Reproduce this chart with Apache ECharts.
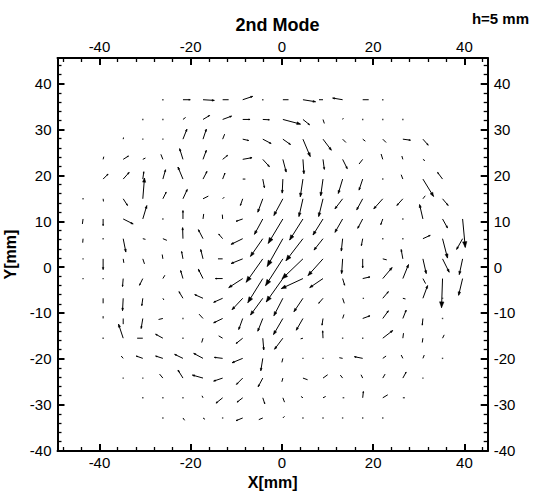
<!DOCTYPE html>
<html><head><meta charset="utf-8">
<script src="https://cdn.jsdelivr.net/npm/echarts@6/dist/echarts.min.js"></script>
<style>html,body{margin:0;padding:0;background:#fff}#c{width:539px;height:491px}</style>
</head><body><div id="c"></div>
<script>
// grid point coordinates (mm)
const xs = [-43.6,-39.2,-34.8,-30.5,-26.1,-21.7,-17.3,-13.0,-8.6,-4.2,0.2,4.6,9.0,13.3,17.7,22.1,26.5,30.9,35.2,39.6];
const ys = [36.5,32.2,27.9,23.5,19.2,14.9,10.5,6.2,1.8,-2.5,-6.8,-11.2,-15.5,-19.9,-24.2,-28.5,-32.9];
// vector components (arbitrary units), one row per y, one entry per x
const U0 = [null,null,null,null,0,22,34,18,30,3,17,38,-12,-30,18,0,null,null,null,null];
const V0 = [null,null,null,null,0,0,-2,0,10,0,0,-6,0,5,0,0,null,null,null,null];
const U1 = [null,null,null,0,0,8,20,27,22,20,53,20,4,2,0,0,0,null,null,null];
const V1 = [null,null,null,0,0,6,12,10,0,-1,-14,-16,-12,4,0,0,0,null,null,null];
const U2 = [null,null,1,0,0,12,10,6,18,25,23,22,25,10,8,10,23,16,null,null];
const V2 = [null,null,5,0,0,30,30,15,-4,-13,-16,-52,-33,-10,-6,-10,-3,-18,null,null];
const U3 = [null,2,16,8,-6,-10,10,15,28,20,10,3,4,14,-11,-5,-3,6,null,null];
const V3 = [null,8,10,4,15,32,27,12,5,-22,-38,-43,-30,-28,-14,16,10,-4,null,null];
const U4 = [null,15,18,3,8,-15,12,7,8,5,-2,-8,-7,-13,-11,0,-5,32,-15,null];
const V4 = [null,15,20,22,28,36,23,18,0,-26,-42,-53,-50,-43,-33,0,13,-52,20,null];
const U5 = [0,1,13,5,10,13,16,5,-7,-15,-27,-12,-13,-23,-18,-27,-18,7,17,null];
const V5 = [0,-8,-20,62,20,28,8,5,-20,-40,-50,-53,-53,-30,-33,-30,-20,9,-20,null];
const U6 = [-2,0,30,12,0,0,2,-1,-20,-25,-44,-40,-30,-23,-15,-6,0,-10,15,8];
const V6 = [-15,-20,-15,40,0,25,15,13,-7,-46,-73,-63,-48,-40,-28,-17,0,43,-27,-85];
const U7 = [-1,0,8,8,12,-1,-14,-12,-35,-37,-47,-51,-27,-4,-4,0,0,22,15,-18];
const V7 = [-12,0,-40,-2,-5,33,27,14,-17,-53,-83,-66,-34,-37,-21,0,0,10,-58,-32];
const U8 = [0,0,2,5,-2,-4,-7,-14,-35,-50,-52,-63,-45,-3,0,12,-5,10,20,-10];
const V8 = [0,-32,-12,-15,13,22,28,0,-14,-70,-80,-60,-50,-44,-27,-3,28,-44,-40,-47];
const U9 = [0,0,-2,-10,6,-7,-14,-22,-42,-45,-50,-65,-40,6,22,28,17,8,-3,-12];
const V9 = [0,-3,-24,-20,10,24,28,0,-27,-72,-70,-30,-27,-20,5,33,42,-15,-87,-50];
const U10 = [null,0,-2,-3,3,-12,-25,-27,-32,-37,-27,-27,-13,5,4,17,8,14,0,null];
const V10 = [null,-15,-37,-22,-5,20,11,-12,-34,-50,-52,-40,-15,-15,0,20,-2,38,0,null];
const U11 = [null,0,0,-5,-13,0,-12,-27,-12,-15,-28,-20,-3,4,22,17,10,-2,0,null];
const V11 = [null,7,-17,-30,-3,0,13,-13,-33,-38,-48,-35,-20,12,8,23,25,-20,0,null];
const U12 = [null,0,-14,-17,-22,0,-4,-12,-20,3,-25,-7,-1,0,0,30,2,-2,5,null];
const V12 = [null,0,42,0,12,0,-13,7,-16,-35,-33,-2,22,0,0,23,15,-13,10,null];
const U13 = [null,null,-6,-20,-22,-25,-28,-25,-32,-6,-3,0,0,-10,-25,10,-5,4,0,null];
const V13 = [null,null,7,7,7,12,15,3,-13,-37,-12,0,0,2,5,7,10,10,0,null];
const U14 = [null,null,0,0,-10,-15,-32,-27,-19,-14,-3,14,14,-7,-5,7,10,0,null,null];
const V14 = [null,null,0,0,12,24,9,-9,-19,-26,-11,-5,10,9,10,12,18,0,null,null];
const U15 = [null,null,null,0,0,0,-3,-20,-17,6,5,-6,8,5,2,15,6,null,null,null];
const V15 = [null,null,null,0,0,0,6,-16,-13,-18,-13,4,4,0,19,9,0,null,null,null];
const U16 = [null,null,null,null,0,5,6,0,-20,-12,5,0,0,0,0,0,null,null,null,null];
const V16 = [null,null,null,null,0,-7,-4,0,-8,-5,5,0,0,0,0,0,null,null,null,null];
const uRows = [U0,U1,U2,U3,U4,U5,U6,U7,U8,U9,U10,U11,U12,U13,U14,U15,U16];
const vRows = [V0,V1,V2,V3,V4,V5,V6,V7,V8,V9,V10,V11,V12,V13,V14,V15,V16];

// axis ticks / labels
const xMajor = [-40,-20,0,20,40];
const xMinor = [-48,-44,-36,-32,-28,-24,-16,-12,-8,-4,4,8,12,16,24,28,32,36,44];
const yMajor = [-40,-30,-20,-10,0,10,20,30,40];
const yMinor = [-38,-36,-34,-32,-28,-26,-24,-22,-18,-16,-14,-12,-8,-6,-4,-2,2,4,6,8,12,14,16,18,22,24,26,28,32,34,36,38,42,44];
const titleText = '2nd Mode';
const noteText = 'h=5 mm';
const xName = 'X[mm]';
const yName = 'Y[mm]';

const XMIN = -49.2, XMAX = 45.1, YMIN = -40.1, YMAX = 45.6;
const ARROW_SCALE = 1 / 13.7;
const FONT = 'Liberation Sans, Arial, sans-serif';

const data = [];
uRows.forEach((row, r) => row.forEach((u, k) => {
  if (u !== null) data.push([xs[k], ys[r], u, vRows[r][k]]);
}));

function mkAxis(dim, pos, major, opts) {
  const ax = {
    type: 'value', position: pos, min: dim === 'x' ? XMIN : YMIN, max: dim === 'x' ? XMAX : YMAX,
    splitLine: { show: false },
    axisLine: { show: major, onZero: false, lineStyle: { color: '#000', width: 2 } },
    axisTick: { show: true, inside: true, length: major ? 7 : 4,
      lineStyle: { color: '#000', width: major ? 2 : 1.3 },
      customValues: major ? (dim === 'x' ? xMajor : yMajor) : (dim === 'x' ? xMinor : yMinor) },
    axisLabel: { show: major, customValues: dim === 'x' ? xMajor : yMajor, color: '#000',
      fontSize: 15, fontFamily: FONT, margin: dim === 'x' ? 4 : 6 },
    axisPointer: { show: false }
  };
  return Object.assign(ax, opts || {});
}

const chart = echarts.init(document.getElementById('c'), null, { renderer: 'svg' });
chart.setOption({
  animation: false,
  backgroundColor: '#fff',
  title: [
    { text: titleText, left: 272.6, top: 11, textAlign: 'center',
      textStyle: { fontFamily: FONT, fontWeight: 'bold', fontSize: 18, color: '#000' } },
    { text: noteText, right: 5, top: 6,
      textStyle: { fontFamily: FONT, fontWeight: 'bold', fontSize: 15, color: '#000' } }
  ],
  grid: { left: 57.5, right: 51.3, top: 58, bottom: 40, containLabel: false, outerBoundsMode: 'none' },
  xAxis: [
    mkAxis('x', 'bottom', true, { name: xName, nameLocation: 'middle', nameGap: 19,
      nameTextStyle: { fontFamily: FONT, fontWeight: 'bold', fontSize: 16, color: '#000', lineHeight: 16 } }),
    mkAxis('x', 'top', true),
    mkAxis('x', 'bottom', false),
    mkAxis('x', 'top', false)
  ],
  yAxis: [
    mkAxis('y', 'left', true, { name: yName, nameLocation: 'middle', nameGap: 32, nameRotate: 90,
      nameTextStyle: { fontFamily: FONT, fontWeight: 'bold', fontSize: 16, color: '#000' } }),
    mkAxis('y', 'right', true),
    mkAxis('y', 'left', false),
    mkAxis('y', 'right', false)
  ],
  series: [{
    type: 'custom', xAxisIndex: 0, yAxisIndex: 0, clip: false, silent: true,
    data: data,
    renderItem: function (params, api) {
      const x = api.value(0), y = api.value(1), u = api.value(2), v = api.value(3);
      const p0 = api.coord([x, y]);
      const p1 = api.coord([x + u * ARROW_SCALE, y + v * ARROW_SCALE]);
      const dx = p1[0] - p0[0], dy = p1[1] - p0[1];
      const len = Math.hypot(dx, dy);
      if (len < 1.2) {
        return { type: 'rect', shape: { x: p0[0] - 0.7, y: p0[1] - 0.7, width: 1.4, height: 1.4 },
          style: { fill: '#444' } };
      }
      const children = [{ type: 'line', shape: { x1: p0[0], y1: p0[1], x2: p1[0], y2: p1[1] },
        style: { stroke: '#000', lineWidth: 1 } }];
      if (len > 6) {
        const h = Math.min(0.2 * len, 6), w = h * 0.38;
        const ux = dx / len, uy = dy / len;
        const bx = p1[0] - ux * h, by = p1[1] - uy * h;
        children.push({ type: 'polygon', shape: { points: [[p1[0], p1[1]], [bx - uy * w, by + ux * w], [bx + uy * w, by - ux * w]] },
          style: { fill: '#000', stroke: '#000', lineWidth: 0.5 } });
      }
      return { type: 'group', children: children };
    }
  }]
});
</script>
</body></html>
